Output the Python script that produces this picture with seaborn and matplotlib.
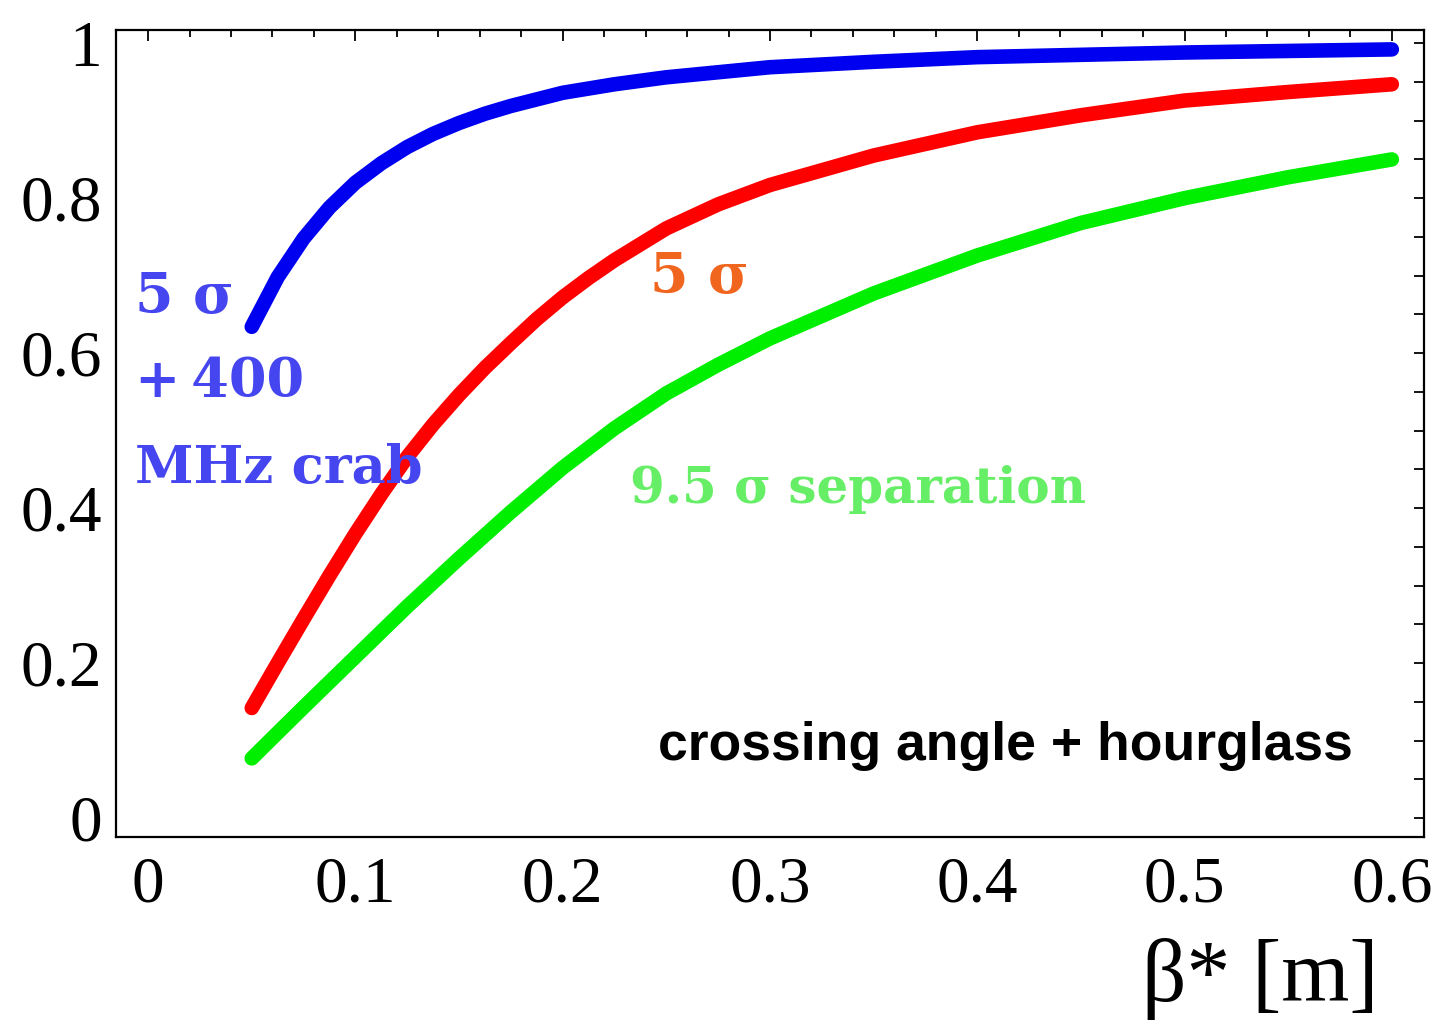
import pandas as pd
import matplotlib
matplotlib.use("Agg")
import matplotlib.pyplot as plt
from matplotlib.ticker import MultipleLocator
import seaborn as sns

# values
beta_crab = [0.05, 0.0625, 0.075, 0.0875, 0.1, 0.1125, 0.125, 0.1375, 0.15, 0.1625, 0.175,
             0.2, 0.225, 0.25, 0.3, 0.35, 0.4, 0.5, 0.6]
red_crab = [0.634, 0.698, 0.748, 0.788, 0.820, 0.845, 0.866, 0.883, 0.897, 0.909, 0.919,
            0.936, 0.947, 0.956, 0.969, 0.976, 0.982, 0.988, 0.992]

beta_5s = [0.05, 0.0625, 0.075, 0.0875, 0.1, 0.1125, 0.125, 0.1375, 0.15, 0.1625, 0.175,
           0.1875, 0.2, 0.2125, 0.225, 0.25, 0.275, 0.3, 0.35, 0.4, 0.45, 0.5, 0.55, 0.6]
red_5s = [0.142, 0.200, 0.257, 0.313, 0.367, 0.418, 0.466, 0.508, 0.546, 0.581, 0.613,
          0.644, 0.672, 0.697, 0.720, 0.761, 0.792, 0.817, 0.855, 0.885, 0.907, 0.926, 0.937, 0.947]

beta_sep = [0.05, 0.075, 0.1, 0.125, 0.15, 0.175, 0.2, 0.225, 0.25, 0.275, 0.3, 0.35, 0.4,
            0.45, 0.5, 0.55, 0.6]
red_sep = [0.077, 0.143, 0.208, 0.273, 0.335, 0.395, 0.452, 0.503, 0.548, 0.585, 0.619, 0.677,
           0.726, 0.768, 0.800, 0.827, 0.850]

curves = ["crab", "5sigma", "sep"]
colors = {"crab": "#0000f0", "5sigma": "#ff0000", "sep": "#00ee00"}

df = pd.concat([
    pd.DataFrame({"beta": beta_crab, "R": red_crab, "case": "crab"}),
    pd.DataFrame({"beta": beta_5s, "R": red_5s, "case": "5sigma"}),
    pd.DataFrame({"beta": beta_sep, "R": red_sep, "case": "sep"}),
], ignore_index=True)

sns.set_style("white")
plt.rcParams["font.family"] = ["Liberation Serif", "DejaVu Serif"]
plt.rcParams["text.color"] = "black"
plt.rcParams["axes.labelcolor"] = "black"

fig = plt.figure(figsize=(14.48, 10.25), dpi=100)
ax = fig.add_axes([0.0801, 0.1834, 0.9033, 0.7873])

sns.lineplot(data=df, x="beta", y="R", hue="case", hue_order=curves, palette=colors,
             estimator=None, sort=False, linewidth=10.5, legend=False, ax=ax,
             solid_capstyle="round", solid_joinstyle="round")

ax.set_xlim(-0.0155, 0.6155)
ax.set_ylim(-0.0245, 1.017)
ax.set_xticks([0, 0.1, 0.2, 0.3, 0.4, 0.5, 0.6])
ax.set_xticklabels(["0", "0.1", "0.2", "0.3", "0.4", "0.5", "0.6"])
ax.set_yticks([0, 0.2, 0.4, 0.6, 0.8, 1.0])
ax.set_yticklabels(["0", "0.2", "0.4", "0.6", "0.8", "1"])
ax.xaxis.set_minor_locator(MultipleLocator(0.02))
ax.yaxis.set_minor_locator(MultipleLocator(0.05))

ax.tick_params(which="both", direction="in", top=True, right=True, colors="black",
               labelsize=47, width=1.3)
ax.tick_params(axis="x", which="major", length=8, pad=14)
ax.tick_params(axis="x", which="minor", length=5)
ax.tick_params(axis="y", which="both", length=7, pad=10)
for lab in ax.get_yticklabels():
    lab.set_va("center_baseline")
for s in ax.spines.values():
    s.set_color("black")
    s.set_linewidth(1.6)

ax.set_xlabel("β* [m]", fontsize=63, ha="right", color="black")
ax.xaxis.set_label_coords(0.965, -0.125)
ax.set_ylabel("")

# annotations
blue_txt = "#4646f0"
ax.text(-0.0063, 0.652, "5 σ", color=blue_txt, fontsize=40, fontweight="bold",
        family="DejaVu Serif", va="baseline")
ax.text(-0.0063, 0.543, "+\u2009400", color=blue_txt, fontsize=39, fontweight="bold",
        family="DejaVu Serif", va="baseline")
ax.text(-0.0063, 0.432, "MHz crab", color=blue_txt, fontsize=38, fontweight="bold",
        family="DejaVu Serif", va="baseline")
ax.text(0.242, 0.677, "5 σ", color="#f0661e", fontsize=40, fontweight="bold",
        family="DejaVu Serif", va="baseline")
ax.text(0.2325, 0.406, "9.5 σ separation", color="#66ee66", fontsize=36, fontweight="bold",
        family="DejaVu Serif", va="baseline")
ax.text(0.246, 0.075, "crossing angle + hourglass", color="black", fontsize=38.5,
        fontweight="bold", family="Liberation Sans", va="baseline")

fig.savefig("out.png", dpi=100, facecolor="white")
